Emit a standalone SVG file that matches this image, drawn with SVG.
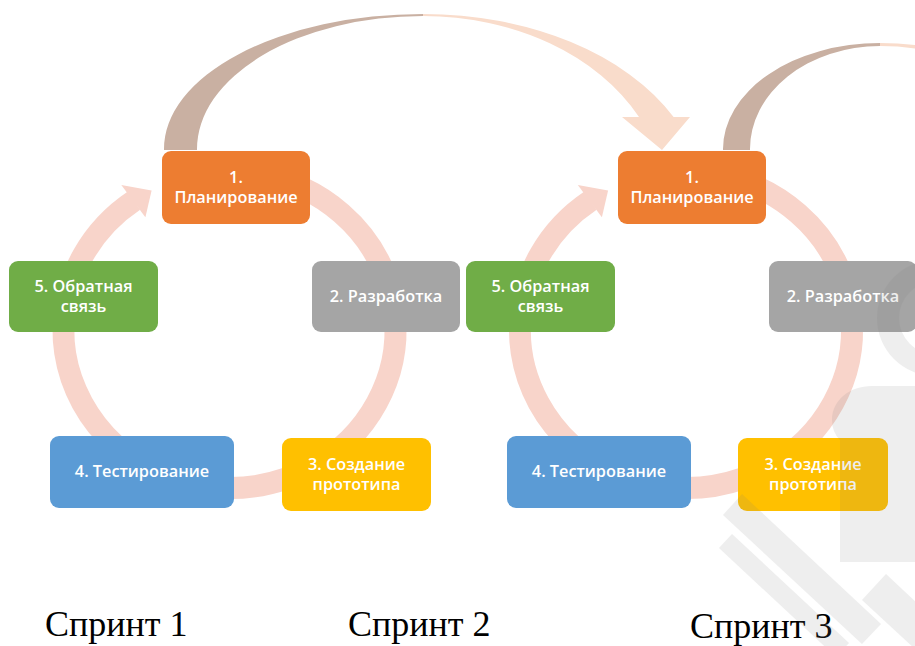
<svg xmlns="http://www.w3.org/2000/svg" width="915" height="646" viewBox="0 0 915 646">
<defs>
<style>
.ring{fill:none;stroke:#F8D4CA;stroke-width:22;stroke-linecap:butt}
.head{fill:#F8D4CA}
.back{fill:#C9B0A2}
.front{fill:#F9DCCB}
.box{rx:9;ry:9}
.nt{fill:#FFFFFF;font-family:"Open Sans","Noto Sans",sans-serif;font-weight:600;font-size:16.3px;text-anchor:middle}
.lbl{fill:#000000;font-family:"Liberation Serif","Times New Roman",serif;font-size:36px}
</style>
</defs>
<rect width="915" height="646" fill="#FFFFFF"/>
<g id="connectors">
<g id="cycle1">
<path class="ring" d="M258.3,174.4 A166,158 0 0 1 389.8,289.1"/>
<path class="ring" d="M394.9,316.2 A166,158 0 0 1 312.5,466.8"/>
<path class="ring" d="M286.3,478.5 A166,158 0 0 1 200.7,485.6"/>
<path class="ring" d="M159.3,473.2 A166,158 0 0 1 66.0,302.6"/>
<path class="ring" d="M63.6,324.5 A166,158 0 0 1 134.0,200.6"/>
<polygon class="head" points="121.3,185.1 151.6,190.5 145.4,217.3"/>
</g>
<g id="cycle2" transform="translate(456.5,0)">
<path class="ring" d="M258.3,174.4 A166,158 0 0 1 389.8,289.1"/>
<path class="ring" d="M394.9,316.2 A166,158 0 0 1 312.5,466.8"/>
<path class="ring" d="M286.3,478.5 A166,158 0 0 1 200.7,485.6"/>
<path class="ring" d="M159.3,473.2 A166,158 0 0 1 66.0,302.6"/>
<path class="ring" d="M63.6,324.5 A166,158 0 0 1 134.0,200.6"/>
<polygon class="head" points="121.3,185.1 151.6,190.5 145.4,217.3"/>
</g>
<g id="sprint-arrow-1">
<path class="back" d="M164,150 A259,135 0 0 1 423,14 L423,16 A226,133 0 0 0 197,150 Z"/>
<path class="front" d="M423,14 A280,186 0 0 1 673.6,117 L690,117 L662,150 L622,117 L639,117 A242,184 0 0 0 423,16 Z"/>
</g>
<g id="sprint-arrow-2">
<path class="back" d="M723,150 A157,106 0 0 1 880,43 L880,46 A130,103 0 0 0 750,150 Z"/>
<path class="front" d="M880,43 A220,146 0 0 1 915,44.9 L915,48.4 A190,143 0 0 0 880,46 Z"/>
</g>
</g>
<g id="sprint1">
<g id="s1-n1"><rect class="box" x="162" y="151" width="148" height="73" fill="#ED7D31"/><text class="nt" x="236" y="183">1.</text><text class="nt" x="236" y="203">Планирование</text></g>
<g id="s1-n2"><rect class="box" x="312" y="261" width="148" height="71" fill="#A5A5A5"/><text class="nt" x="386" y="302">2. Разработка</text></g>
<g id="s1-n3"><rect class="box" x="282" y="438" width="149" height="73" fill="#FFC000"/><text class="nt" x="356.5" y="470">3. Создание</text><text class="nt" x="356.5" y="490">прототипа</text></g>
<g id="s1-n4"><rect class="box" x="50" y="436" width="184" height="72" fill="#5B9BD5"/><text class="nt" x="142" y="477">4. Тестирование</text></g>
<g id="s1-n5"><rect class="box" x="9" y="261" width="149" height="71" fill="#70AD47"/><text class="nt" x="83.5" y="292">5. Обратная</text><text class="nt" x="83.5" y="312">связь</text></g>
</g>
<g id="sprint2">
<g id="s2-n1"><rect class="box" x="618" y="151" width="148" height="73" fill="#ED7D31"/><text class="nt" x="692" y="183">1.</text><text class="nt" x="692" y="203">Планирование</text></g>
<g id="s2-n2"><rect class="box" x="769" y="261" width="148" height="71" fill="#A5A5A5"/><text class="nt" x="843" y="302">2. Разработка</text></g>
<g id="s2-n3"><rect class="box" x="738" y="438" width="150" height="73" fill="#FFC000"/><text class="nt" x="813" y="470">3. Создание</text><text class="nt" x="813" y="490">прототипа</text></g>
<g id="s2-n4"><rect class="box" x="507" y="436" width="184" height="72" fill="#5B9BD5"/><text class="nt" x="599" y="477">4. Тестирование</text></g>
<g id="s2-n5"><rect class="box" x="466" y="261" width="149" height="71" fill="#70AD47"/><text class="nt" x="540.5" y="292">5. Обратная</text><text class="nt" x="540.5" y="312">связь</text></g>
</g>
<g id="labels">
<text class="lbl" x="45" y="636">Спринт 1</text>
<text class="lbl" x="348" y="636">Спринт 2</text>
<text class="lbl" x="690" y="638">Спринт 3</text>
</g>
<g id="watermark" opacity="0.13" fill="#7F7F7F">
<path d="M935,260 A58,58 0 0 0 935,376 L935,354 A36,36 0 0 1 935,282 Z"/>
<path d="M840,562 L840,440 Q832,432 832,420 C832,400 850,386 872,386 L915,386 L915,562 Z"/>
<polygon points="742,494 881,624 862,644 723,515"/>
<polygon points="732,534 849,643 836,657 719,548"/>
<polygon points="886,574 952,636 928,661 862,600"/>
</g>
</svg>
